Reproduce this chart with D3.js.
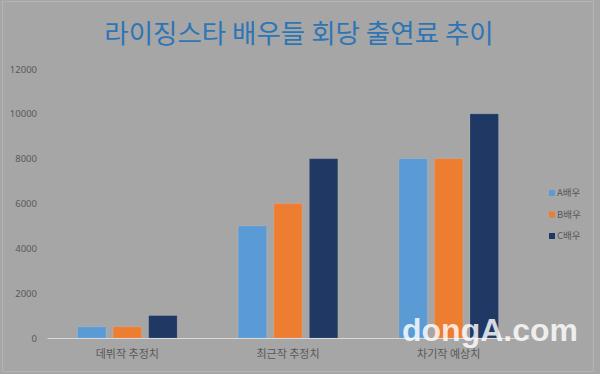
<!DOCTYPE html>
<html>
<head>
<meta charset="utf-8">
<script src="https://cdn.jsdelivr.net/npm/d3@7"></script>
<style>
  body { margin: 0; background: #a6a6a6; }
  svg { display: block; }
</style>
</head>
<body>
<svg id="chart" width="600" height="374"></svg>
<script>
// chart data
var categories = ["데뷔작 추정치", "최근작 추정치", "차기작 예상치"]
var seriesNames = ["A배우", "B배우", "C배우"]
var seriesA = [500, 5000, 8000]
var seriesB = [500, 6000, 8000]
var seriesC = [1000, 8000, 10000]
var yTicks = [0, 2000, 4000, 6000, 8000, 10000, 12000]

var colors = ["#5b9bd5", "#ed7d31", "#203864"]
var values = [seriesA, seriesB, seriesC]

var svg = d3.select("#chart")
var width = 600, height = 374
var margin = { left: 47, right: 71, top: 69, bottom: 36 }
var plotW = width - margin.left - margin.right,
    plotH = height - margin.top - margin.bottom

// background + frame
svg.append("rect").attr("width", width).attr("height", height).attr("fill", "#a6a6a6")
svg.append("rect")
    .attr("x", 2.5).attr("y", 1.5)
    .attr("width", 591).attr("height", 370)
    .attr("fill", "none").attr("stroke", "#b4b4b4")

// title
svg.append("text")
    .attr("x", 299).attr("y", 43)
    .attr("text-anchor", "middle")
    .style("font-family", "'Noto Sans CJK KR', sans-serif")
    .style("font-size", "26.5px")
    .style("font-weight", 400)
    .attr("fill", "#2e75b6")
    .text("라이징스타 배우들 회당 출연료 추이")

var g = svg.append("g").attr("transform", "translate(" + margin.left + "," + margin.top + ")")

var x0 = d3.scaleBand().domain(categories).range([0, plotW]).paddingInner(0.38).paddingOuter(0.19)
var x1 = d3.scaleBand().domain(seriesNames).range([0, x0.bandwidth()]).paddingInner(0.2)
var y = d3.scaleLinear().domain([0, 12000]).range([plotH, 0])

// y axis labels
var yAxis = g.append("g")
    .call(d3.axisLeft(y).tickValues(yTicks).tickFormat(d3.format("d")).tickSize(0).tickPadding(10))
yAxis.select(".domain").remove()
yAxis.selectAll("text")
    .style("font-family", "'Noto Sans', sans-serif")
    .style("font-size", "9.5px")
    .attr("fill", "#595959")

// bars
var groups = g.selectAll(".grp")
    .data(categories)
    .enter().append("g")
    .attr("class", "grp")
    .attr("transform", function(d) { return "translate(" + x0(d) + ",0)" })

groups.selectAll("rect")
    .data(function(d, i) { return seriesNames.map(function(s, j) { return { s: s, v: values[j][i], c: colors[j] } }) })
    .enter().append("rect")
    .attr("x", function(d) { return x1(d.s) })
    .attr("y", function(d) { return y(d.v) })
    .attr("width", x1.bandwidth())
    .attr("height", function(d) { return plotH - y(d.v) })
    .attr("fill", function(d) { return d.c })
    .attr("stroke", "rgba(255,255,255,0.12)")
    .attr("stroke-width", 1)

// x axis
var xAxis = g.append("g")
    .attr("transform", "translate(0," + plotH + ")")
    .call(d3.axisBottom(x0).tickSize(0).tickPadding(12))
xAxis.select(".domain").attr("stroke", "#d9d9d9").attr("stroke-width", 1.2)
xAxis.selectAll("text")
    .style("font-family", "'Noto Sans CJK KR', sans-serif")
    .style("font-size", "11px")
    .attr("fill", "#595959")

// legend
var legend = svg.append("g").attr("transform", "translate(549,193)")
var item = legend.selectAll("g")
    .data(seriesNames)
    .enter().append("g")
    .attr("transform", function(d, i) { return "translate(0," + (i * 21.5) + ")" })
item.append("rect")
    .attr("x", 0).attr("y", -3)
    .attr("width", 6).attr("height", 6)
    .attr("fill", function(d, i) { return colors[i] })
item.append("text")
    .attr("x", 8).attr("y", 0)
    .attr("dy", "0.35em")
    .style("font-family", "'Noto Sans CJK KR', sans-serif")
    .style("font-size", "9.5px")
    .attr("fill", "#595959")
    .text(function(d) { return d })

// watermark
svg.append("text")
    .attr("x", 402).attr("y", 341)
    .style("font-family", "'Liberation Sans', Arial, sans-serif")
    .style("font-size", "32px")
    .style("font-weight", 700)
    .attr("fill", "#ffffff")
    .attr("fill-opacity", 0.82)
    .text("dongA.com")
</script>
</body>
</html>
